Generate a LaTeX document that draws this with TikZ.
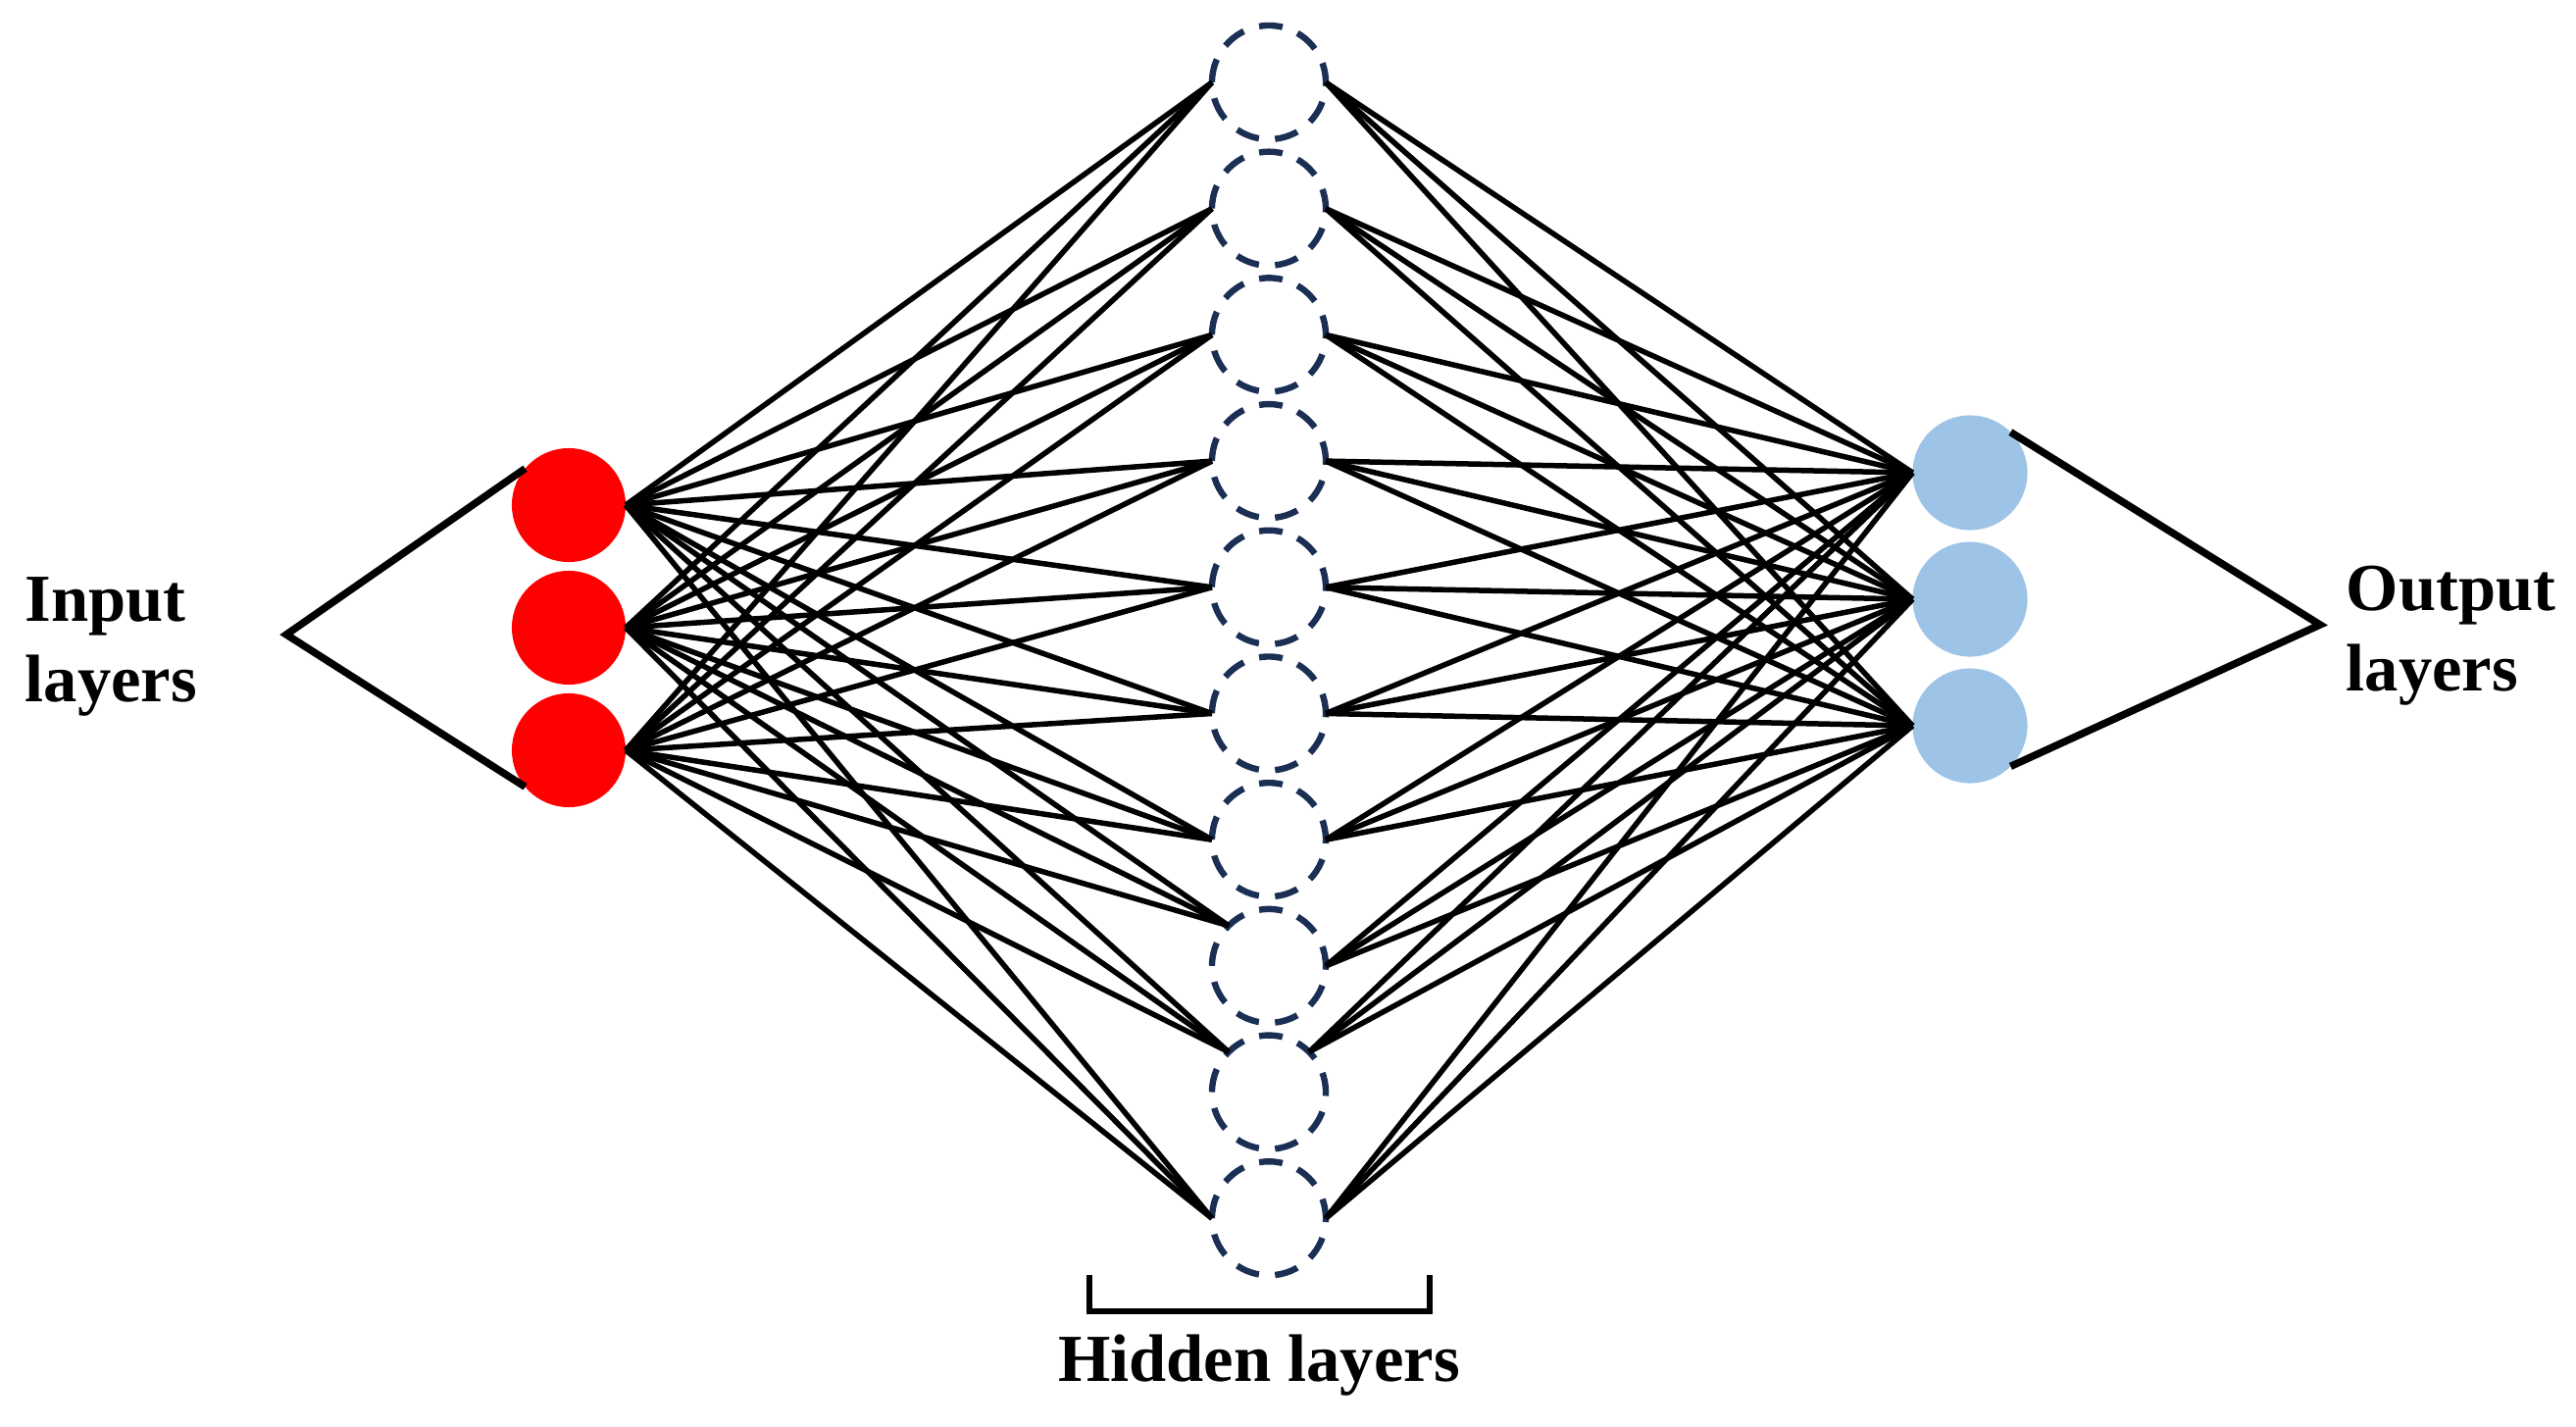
\documentclass[tikz,border=0pt]{standalone}
\usepackage{fontspec}
\setmainfont{Liberation Serif}
\definecolor{hidblue}{HTML}{1B2F55}
\definecolor{outblue}{HTML}{9DC3E6}
\definecolor{inred}{HTML}{FF0000}
\begin{document}
\begin{tikzpicture}[x=0.01cm,y=-0.01cm,
  inneuron/.style={circle,fill=inred,minimum size=1.16cm,inner sep=0pt,outer sep=0pt},
  outneuron/.style={circle,fill=outblue,minimum size=1.17cm,inner sep=0pt,outer sep=0pt},
  hidneuron/.style={circle,draw=hidblue,line width=0.064cm,minimum size=1.16cm,inner sep=0pt,outer sep=0pt,
    dash pattern=on 0.24cm off 0.16491cm,dash phase=0.039cm},
  conn/.style={line width=0.055cm,black},
  bracketline/.style={line width=0.075cm,black},
  hbracket/.style={line width=0.062cm,black},
  lbl/.style={font=\fontsize{19.5}{23.3}\selectfont\bfseries,inner sep=0pt,align=left}
]
\useasboundingbox (0,0) rectangle (2627,1454);

% nodes
\foreach \i/\y in {1/515,2/640,3/765}
  \node[inneuron] (in\i) at (580,\y) {};
\foreach \i in {1,...,10}
  \node[hidneuron] (h\i) at (1294,{84+128.7*(\i-1)}) {};
\foreach \i/\y in {1/482,2/611,3/740}
  \node[outneuron] (out\i) at (2009,\y) {};

% connections
\foreach \h/\la/\ra in {1/180/0,2/180/0,3/180/0,4/180/0,5/180/0,6/180/0,7/180/0,8/135/0,9/135/45,10/180/0}{
  \foreach \i in {1,2,3}{
    \draw[conn] (in\i.east) -- (h\h.\la);
    \draw[conn] (out\i.west) -- (h\h.\ra);
  }
}

% brackets
\coordinate (inapex) at (292,647);
\draw[bracketline] (in1.140) -- (inapex) -- (in3.220);
\coordinate (outapex) at (2366,637);
\draw[bracketline] (out1.45) -- (outapex) -- (out3.-45);
\coordinate (hb1) at (1111,1300);
\coordinate (hb2) at (1111,1337);
\coordinate (hb3) at (1458,1337);
\coordinate (hb4) at (1458,1300);
\draw[hbracket] (hb1) -- (hb2) -- (hb3) -- (hb4);

% labels (base anchor = baseline of last line)
\node[lbl,anchor=base west] (inlabel) at (25,715) {Input\\layers};
\node[lbl,anchor=base west] (outlabel) at (2392,704) {Output\\layers};
\node[lbl,anchor=base] (hidlabel) at (1284,1408) {Hidden layers};
\end{tikzpicture}
\end{document}
